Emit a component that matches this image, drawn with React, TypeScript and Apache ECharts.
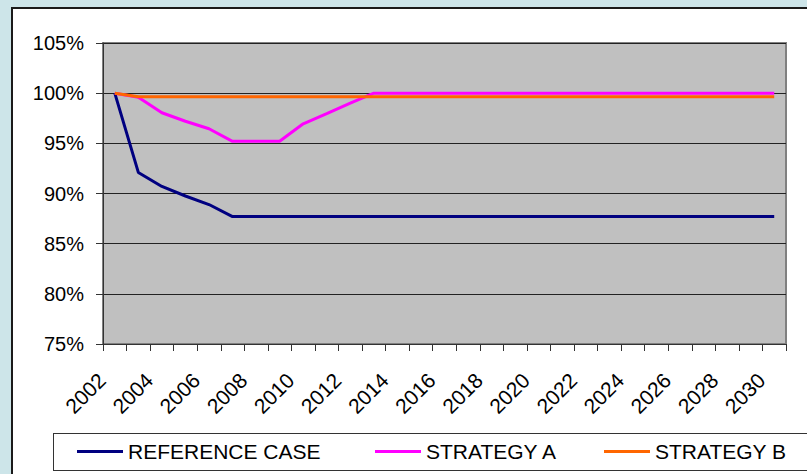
import React, { useEffect, useRef } from "react";
import * as echarts from "echarts";

const years = [
  "2002", "2003", "2004", "2005", "2006", "2007", "2008", "2009", "2010", "2011",
  "2012", "2013", "2014", "2015", "2016", "2017", "2018", "2019", "2020", "2021",
  "2022", "2023", "2024", "2025", "2026", "2027", "2028", "2029", "2030",
];

const referenceCase = [
  100, 92.1, 90.7, 89.75, 88.9, 87.7, 87.7, 87.7, 87.7, 87.7,
  87.7, 87.7, 87.7, 87.7, 87.7, 87.7, 87.7, 87.7, 87.7, 87.7,
  87.7, 87.7, 87.7, 87.7, 87.7, 87.7, 87.7, 87.7, 87.7,
];

const strategyA = [
  100, 99.6, 98.05, 97.2, 96.45, 95.2, 95.2, 95.2, 96.95, 97.95,
  99.0, 100, 100, 100, 100, 100, 100, 100, 100, 100,
  100, 100, 100, 100, 100, 100, 100, 100, 100,
];

const strategyB = [
  100, 99.65, 99.65, 99.65, 99.65, 99.65, 99.65, 99.65, 99.65, 99.65,
  99.65, 99.65, 99.65, 99.65, 99.65, 99.65, 99.65, 99.65, 99.65, 99.65,
  99.65, 99.65, 99.65, 99.65, 99.65, 99.65, 99.65, 99.65, 99.65,
];

const seriesNames = ["REFERENCE CASE", "STRATEGY A", "STRATEGY B"];
const seriesColors = ["#000080", "#FF00FF", "#FF6600"];
const seriesData = [referenceCase, strategyA, strategyB];
const legendLefts = [77, 375, 604];

const FONT = "'Liberation Sans', Arial, sans-serif";

export default function App() {
  const ref = useRef<HTMLDivElement>(null);

  useEffect(() => {
    if (!ref.current) return;
    const chart = echarts.init(ref.current, null, { renderer: "svg" });
    chart.setOption({
      animation: false,
      textStyle: { fontFamily: FONT },
      grid: {
        left: 103,
        top: 43,
        right: 21,
        bottom: 130,
        show: true,
        backgroundColor: "#C0C0C0",
        borderColor: "#808080",
        borderWidth: 2,
        containLabel: false,
        outerBoundsMode: "none",
      },
      legend: seriesNames.map((name, i) => ({
        data: [name],
        left: legendLefts[i],
        top: 441,
        padding: 0,
        icon: "rect",
        itemWidth: 46,
        itemHeight: 3,
        itemGap: 0,
        selectedMode: false,
        textStyle: { fontSize: 21, color: "#000", fontFamily: FONT, padding: [0, 0, 0, 0] },
      })),
      xAxis: {
        type: "category",
        data: years,
        boundaryGap: true,
        axisLine: { show: true, lineStyle: { color: "#333", width: 1 } },
        axisTick: { show: true, interval: 0, length: 7, lineStyle: { color: "#333" } },
        axisLabel: {
          interval: 1,
          rotate: 45,
          margin: 20,
          padding: [0, 18, 0, 0],
          fontSize: 21,
          color: "#000",
          fontFamily: FONT,
        },
        splitLine: { show: false },
      },
      yAxis: {
        type: "value",
        min: 75,
        max: 105,
        interval: 5,
        axisLine: { show: true, lineStyle: { color: "#333", width: 1 } },
        axisTick: { show: true, length: 7, lineStyle: { color: "#333" } },
        axisLabel: {
          formatter: "{value}%",
          margin: 19,
          fontSize: 20,
          color: "#000",
          fontFamily: FONT,
        },
        splitLine: { show: true, lineStyle: { color: "#222", width: 1 } },
      },
      series: seriesNames.map((name, i) => ({
        name,
        type: "line",
        data: seriesData[i],
        showSymbol: false,
        symbol: "none",
        lineStyle: { color: seriesColors[i], width: 3 },
        itemStyle: { color: seriesColors[i] },
      })),
    });
    return () => chart.dispose();
  }, []);

  return (
    <div
      style={{
        position: "fixed",
        left: 0,
        top: 0,
        width: 807,
        height: 474,
        background: "#CDE5E9",
        overflow: "hidden",
      }}
    >
      <div
        style={{
          position: "absolute",
          left: 11,
          top: 7,
          width: 820,
          height: 500,
          background: "#fff",
          border: "2px solid #1a1a1a",
          boxSizing: "border-box",
        }}
      />
      <div
        style={{
          position: "absolute",
          left: 53,
          top: 433,
          width: 800,
          height: 38,
          background: "#fff",
          border: "1px solid #333",
          boxSizing: "border-box",
        }}
      />
      <div ref={ref} style={{ position: "absolute", left: 0, top: 0, width: 807, height: 474 }} />
    </div>
  );
}
